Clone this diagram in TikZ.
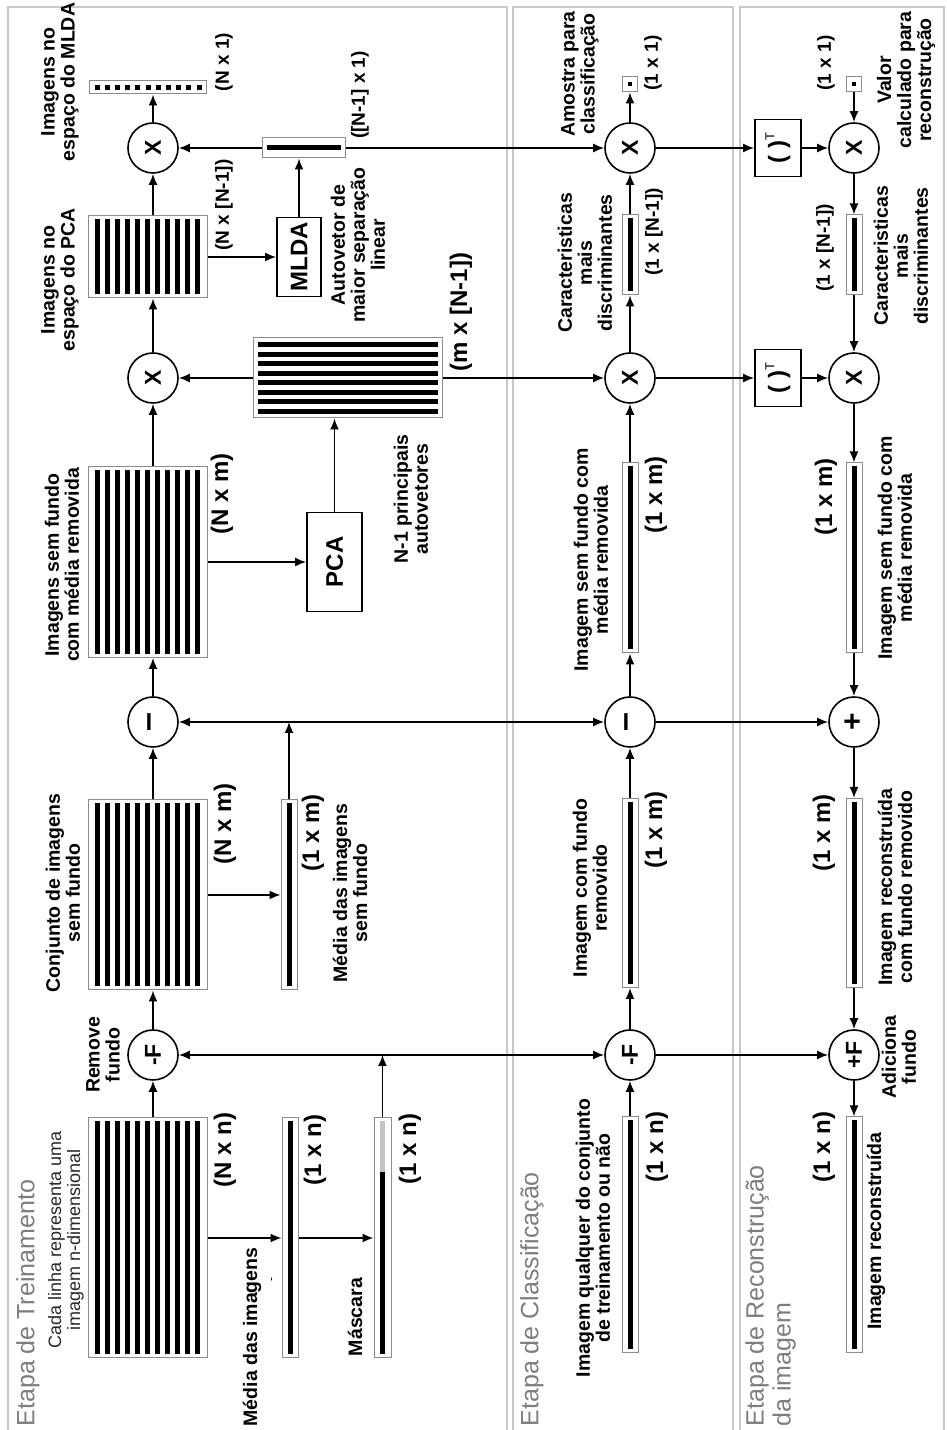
\documentclass[tikz,border=0pt]{standalone}
\usepackage{fontspec}
\setmainfont{Liberation Sans}
\usetikzlibrary{arrows.meta,calc}

\definecolor{panelgray}{RGB}{200,200,200}
\definecolor{boxgray}{RGB}{140,140,140}
\definecolor{maskgray}{RGB}{195,195,195}
\definecolor{titlegray}{RGB}{125,125,125}
\definecolor{notegray}{RGB}{40,40,40}

\tikzset{every picture/.style={line width=1.2pt}}
\tikzset{
  panel/.style={draw=panelgray,line width=2pt},
  matbox/.style={draw=boxgray,line width=1pt,inner sep=0pt,minimum height=119pt},
  vecbox/.style={draw=boxgray,line width=1pt,inner sep=0pt,minimum height=16pt},
  opc/.style={circle,draw,line width=1.6pt,minimum size=50pt,inner sep=0pt,font=\fontsize{23}{23}\selectfont\bfseries},
  opbox/.style={draw,line width=1.8pt,inner sep=0pt,font=\fontsize{24}{24}\selectfont\bfseries},
  lbl/.style={align=center,inner sep=0pt,font=\fontsize{19.5}{20}\selectfont\bfseries},
  dim/.style={inner sep=0pt,font=\fontsize{24}{24}\selectfont\bfseries},
  dimsm/.style={inner sep=0pt,font=\fontsize{19}{19}\selectfont\bfseries},
  stage/.style={align=left,inner sep=0pt,text=titlegray,font=\fontsize{25}{27}\selectfont},
  arr/.style={-{Latex[length=11pt,width=9pt]},line width=1.7pt},
  fillbar/.style={line width=5pt},
}

\begin{document}
\begin{tikzpicture}[x={(0pt,1pt)},y={(1pt,0pt)},every node/.style={rotate=90}]
%set diagram: landscape (X right, Y down), turned a quarter turn
\useasboundingbox (0,0) rectangle (1430,947);

%Shape: Panels
\draw[panel] (-5,8) rectangle (1423,507);
\draw[panel] (-5,513) rectangle (1423,733);
\draw[panel] (-5,740) rectangle (1423,944);

%Shape: Training row
\node[matbox,minimum width=240pt] (matA) at (192,147.5) {};
\node[vecbox,minimum width=240pt] (meanA) at (192,290) {};
\node[vecbox,minimum width=240pt,minimum height=17pt] (mask) at (192,382.5) {};
\node[opc] (trF) at (375,153) {-F};
\node[matbox,minimum width=190pt] (matB) at (535,147.5) {};
\node[vecbox,minimum width=190pt] (meanB) at (535,289) {};
\node[opc,font=\fontsize{34}{34}\selectfont\bfseries] (trM) at (708,153) {--};
\node[matbox,minimum width=191pt] (matC) at (868,147.5) {};
\node[opbox,minimum width=99pt,minimum height=55pt] (pca) at (868,334.5) {PCA};
\node[matbox,minimum width=80pt,minimum height=189pt] (eig) at (1052,347.5) {};
\node[opc] (trX1) at (1052,153) {X};
\node[matbox,minimum width=82pt] (matD) at (1173,147.5) {};
\node[opbox,minimum width=79pt,minimum height=44pt] (mlda) at (1173,299) {MLDA};
\node[vecbox,minimum width=20pt,minimum height=83pt] (sep) at (1282,303.5) {};
\node[opc] (trX2) at (1282,153) {X};
\node[vecbox,minimum width=13pt,minimum height=117pt] (outN) at (1342.5,147.5) {};

%Shape: Classification row
\node[vecbox,minimum width=236pt] (inC) at (195,630) {};
\node[opc] (clF) at (375,630) {-F};
\node[vecbox,minimum width=189pt] (vC1) at (537,630) {};
\node[opc,font=\fontsize{34}{34}\selectfont\bfseries] (clM) at (708,630) {--};
\node[vecbox,minimum width=190pt] (vC2) at (872,630) {};
\node[opc] (clX1) at (1052,630) {X};
\node[vecbox,minimum width=80pt] (vC3) at (1175,630) {};
\node[opc] (clX2) at (1282,630) {X};
\node[vecbox,minimum size=15pt] (outC) at (1345.5,630) {};

%Shape: Reconstruction row
\node[vecbox,minimum width=236pt] (outR) at (195,854) {};
\node[opc] (reF) at (375,854) {+F};
\node[vecbox,minimum width=189pt] (vR1) at (537,854) {};
\node[opc,font=\fontsize{30}{30}\selectfont\bfseries] (reP) at (708,854) {+};
\node[vecbox,minimum width=190pt] (vR2) at (872,854) {};
\node[opc] (reX1) at (1052,854) {X};
\node[opbox,minimum width=57pt,minimum height=46pt] (tpA) at (1052,778) {(\hspace{7pt})\raisebox{11pt}{\normalfont\fontsize{13}{13}\selectfont T}};
\node[vecbox,minimum width=80pt] (vR3) at (1175,854) {};
\node[opc] (reX2) at (1282,854) {X};
\node[opbox,minimum width=57pt,minimum height=46pt] (tpB) at (1282,778) {(\hspace{7pt})\raisebox{11pt}{\normalfont\fontsize{13}{13}\selectfont T}};
\node[vecbox,minimum size=15pt] (inR) at (1345.5,854) {};

%Shape: Matrix rows and vector bars
\foreach \m in {matA,matB,matC,matD}
  \foreach \i in {0,...,10}
    \fill ($(\m.north west)+(4,{7+10*\i})$) rectangle ($(\m.north east)+(-4,{12+10*\i})$);
\foreach \i in {0,...,7}
  \fill ($(eig.north west)+({4.5+9.5*\i},5)$) rectangle ($(eig.south west)+({9.5+9.5*\i},-5)$);
\foreach \v in {meanA,meanB,inC,vC1,vC2,vC3,outR,vR1,vR2,vR3}
  \draw[fillbar] ($(\v.west)+(4,0)$) -- ($(\v.east)+(-4,0)$);
\draw[fillbar] ($(mask.west)+(4,0)$) -- ($(mask.west)!0.775!(mask.east)$);
\draw[fillbar,draw=maskgray] ($(mask.west)!0.775!(mask.east)$) -- ($(mask.east)+(-4,0)$);
\draw[fillbar] ($(sep.north)+(0,5)$) -- ($(sep.south)+(0,-5)$);
\foreach \i in {0,...,10}
  \fill ($(outN.north)+(-2.5,{6+10.2*\i})$) rectangle +(5,5);
\fill (outC.center) +(-2,-2) rectangle +(2,2);
\fill (inR.center) +(-2,-2) rectangle +(2,2);

%Straight Lines: training row
\draw[arr] (trF |- matA.east) -- (trF.west);
\draw[arr] (trF.east) -- (trF |- matB.west);
\draw[arr] (trM |- matB.east) -- (trM.west);
\draw[arr] (trM.east) -- (trM |- matC.west);
\draw[arr] (trX1 |- matC.east) -- (trX1.west);
\draw[arr] (trX1.east) -- (trX1 |- matD.west);
\draw[arr] (trX2 |- matD.east) -- (trX2.west);
\draw[arr] (trX2.east) -- (trX2 |- outN.west);
\draw[arr] (matA.south) -- (meanA.north);
\draw[arr] (meanA.south) -- (mask.north);
\draw[arr] (matB.south) -- (meanB.north);
\draw[arr] (matC.south) -- (pca.north);
\draw[arr] (pca.east) -- (pca |- eig.west);
\draw[arr] (eig.north) -- (trX1.south);
\draw[arr] (matD.south) -- (mlda.north);
\draw[arr] (mlda.east) -- (mlda |- sep.west);
\draw[arr] (sep.north) -- (trX2.south);

%Straight Lines: background bus
\coordinate (jF) at (375,382.5);
\draw[arr] (mask.east) -- (jF);
\draw[arr] (jF) -- (trF.south);
\draw[arr] (jF) -- (clF.north);
\draw[arr] (clF.south) -- (reF.north);
%Straight Lines: mean bus
\coordinate (jM) at (708,289);
\draw[arr] (meanB.east) -- (jM);
\draw[arr] (jM) -- (trM.south);
\draw[arr] (jM) -- (clM.north);
\draw[arr] (clM.south) -- (reP.north);
%Straight Lines: eigenvectors down
\draw[arr] (eig.south) -- (clX1.north);
\draw[arr] (sep.south) -- (clX2.north);

%Straight Lines: classification row
\draw[arr] (inC.east) -- (clF.west);
\draw[arr] (clF.east) -- (vC1.west);
\draw[arr] (vC1.east) -- (clM.west);
\draw[arr] (clM.east) -- (vC2.west);
\draw[arr] (vC2.east) -- (clX1.west);
\draw[arr] (clX1.east) -- (vC3.west);
\draw[arr] (vC3.east) -- (clX2.west);
\draw[arr] (clX2.east) -- (outC.west);
\draw[arr] (clX1.south) -- (tpA.north);
\draw[arr] (tpA.south) -- (reX1.north);
\draw[arr] (clX2.south) -- (tpB.north);
\draw[arr] (tpB.south) -- (reX2.north);

%Straight Lines: reconstruction row
\draw[arr] (inR.west) -- (reX2.east);
\draw[arr] (reX2.west) -- (vR3.east);
\draw[arr] (vR3.west) -- (reX1.east);
\draw[arr] (reX1.west) -- (vR2.east);
\draw[arr] (vR2.west) -- (reP.east);
\draw[arr] (reP.west) -- (vR1.east);
\draw[arr] (vR1.west) -- (reF.east);
\draw[arr] (reF.west) -- (outR.east);

% Text Node: training
\node[stage,anchor=west] (tT) at (3,28) {Etapa de Treinamento};
\node[align=center,inner sep=0pt,text=notegray,font=\fontsize{18}{19}\selectfont] (tCada) at (190,66) {Cada linha representa uma\\imagem n-dimensional};
\node[dim] (dA) at (280,225) {(N x n)};
\node[lbl] (lRem) at (375,103) {Remove\\fundo};
\node[lbl,anchor=east] (lMed) at (183,252) {Média das imagens};
\node[inner sep=0pt,font=\fontsize{12}{12}\selectfont] (lDash) at (150,273) {-};
\node[dim] (dMeanA) at (280,315) {(1 x n)};
\node[lbl] (lMask) at (113,355) {Máscara};
\node[dim] (dMask) at (281,410) {(1 x n)};
\node[lbl] (lConj) at (537,63) {Conjunto de imagens\\sem fundo};
\node[dim] (dB) at (606,225) {(N x m)};
\node[dim] (dMeanB) at (597,313) {(1 x m)};
\node[lbl] (lMedB) at (537,350) {Média das imagens\\sem fundo};
\node[lbl] (lC) at (865,62) {Imagens sem fundo\\com média removida};
\node[dim] (dC) at (936,222) {(N x m)};
\node[lbl] (lEig) at (931,411) {N-1 principais\\autovetores};
\node[dim] (dEig) at (1118,461) {(m x [N-1])};
\node[lbl] (lD) at (1150,60) {Imagens no\\espaço do PCA};
\node[dimsm] (dD) at (1225,224) {(N x [N-1])};
\node[lbl] (lSep) at (1185,358) {Autovetor de\\maior separação\\linear};
\node[dimsm] (dSep) at (1335,360) {([N-1] x 1)};
\node[lbl] (lOut) at (1348,60) {Imagens no\\espaço do MLDA};
\node[dimsm] (dOut) at (1368,224) {(N x 1)};

% Text Node: classification
\node[stage,anchor=west] (tC) at (3,532) {Etapa de Classificação};
\node[lbl] (lIn) at (192,593) {Imagem qualquer do conjunto\\de treinamento ou não};
\node[dim] (dIn) at (283,657) {(1 x n)};
\node[lbl] (lC1) at (542,590) {Imagem com fundo\\removido};
\node[dim] (dC1) at (600,656) {(1 x m)};
\node[lbl] (lC2) at (870,591) {Imagem sem fundo com\\média removida};
\node[dim] (dC2) at (935,656) {(1 x m)};
\node[lbl] (lC3) at (1167,585) {Caracteristicas\\mais\\discriminantes};
\node[dimsm] (dC3) at (1198,654) {(1 x [N-1])};
\node[lbl] (lOutC) at (1356,580) {Amostra para\\classificação};
\node[dimsm] (dOutC) at (1367,653) {(1 x 1)};

% Text Node: reconstruction
\node[stage,anchor=north west] (tR) at (3,745) {Etapa de Reconstrução\\da imagem};
\node[dim] (dOutR) at (283,824) {(1 x n)};
\node[lbl] (lOutR) at (199,876) {Imagem reconstruída};
\node[lbl] (lAdd) at (373,899) {Adiciona\\fundo};
\node[dim] (dR1) at (597,824) {(1 x m)};
\node[lbl] (lR1) at (543,895) {Imagem reconstruída\\com fundo removido};
\node[dim] (dR2) at (933,826) {(1 x m)};
\node[lbl] (lR2) at (882,895) {Imagem sem fundo com\\média removida};
\node[dimsm] (dR3) at (1182,825) {(1 x [N-1])};
\node[lbl] (lR3) at (1174,901) {Caracteristicas\\mais\\discriminantes};
\node[dimsm] (dInR) at (1367,826) {(1 x 1)};
\node[lbl] (lInR) at (1350,906) {Valor\\calculado para\\reconstrução};

\end{tikzpicture}
\end{document}
